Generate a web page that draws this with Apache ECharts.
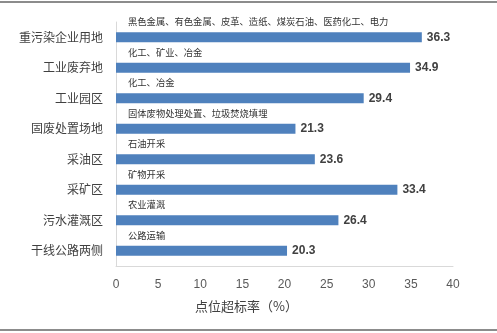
<!DOCTYPE html>
<html><head><meta charset="utf-8">
<script src="https://cdn.jsdelivr.net/npm/echarts@6/dist/echarts.min.js"></script>
<style>html,body{margin:0;padding:0;background:#fff}#c{width:497px;height:333px}</style>
</head><body><div id="c"></div>
<script>
var categories = ['重污染企业用地','工业废弃地','工业园区','固废处置场地','采油区','采矿区','污水灌溉区','干线公路两侧'];
var values = [36.3, 34.9, 29.4, 21.3, 23.6, 33.4, 26.4, 20.3];
var notes = ['黑色金属、有色金属、皮革、造纸、煤炭石油、医药化工、电力','化工、矿业、冶金','化工、冶金','固体废物处理处置、垃圾焚烧填埋','石油开采','矿物开采','农业灌溉','公路运输'];
var xTicks = [0, 5, 10, 15, 20, 25, 30, 35, 40];
var xName = '点位超标率（%）';

var chart = echarts.init(document.getElementById('c'));
var cjk = '"Noto Sans CJK SC", sans-serif';
chart.setOption({
  animation: false,
  grid: {left: 116, right: 44, top: 22, bottom: 67},
  xAxis: {
    type: 'value', min: xTicks[0], max: xTicks[xTicks.length-1], interval: 5,
    splitLine: {show: false},
    axisLine: {show: true, lineStyle: {color: '#d9d9d9', width: 1}},
    axisTick: {show: false},
    axisLabel: {color: '#595959', fontSize: 12, margin: 13, fontFamily: '"Liberation Sans", sans-serif'},
    name: xName, nameLocation: 'middle', nameGap: 34,
    nameTextStyle: {color: '#404040', fontSize: 13, fontFamily: cjk, padding: [0, 76, 0, 0]}
  },
  yAxis: {
    type: 'category', data: categories, inverse: true,
    axisLine: {show: true, lineStyle: {color: '#d9d9d9'}},
    axisTick: {show: false},
    axisLabel: {color: '#404040', fontSize: 12, margin: 13, fontFamily: cjk}
  },
  series: [
    {
      type: 'bar', data: values, barWidth: 10,
      itemStyle: {color: '#4f81bd'},
      label: {show: true, position: 'right', distance: 5, color: '#404040', fontWeight: 'bold', fontSize: 12, fontFamily: '"Liberation Sans", sans-serif'}
    },
    {
      type: 'bar', data: values, barWidth: 10, barGap: '-100%',
      itemStyle: {color: 'rgba(0,0,0,0)'}, silent: true,
      label: {show: true, position: [12, -15], color: '#333', fontSize: 9.3, fontFamily: cjk,
        formatter: function(p){ return notes[p.dataIndex]; }}
    }
  ],
  graphic: [
    {type: 'rect', shape: {x: 0, y: 1, width: 497, height: 2}, style: {fill: '#8c8c8c'}},
    {type: 'rect', shape: {x: 0, y: 329, width: 497, height: 2}, style: {fill: '#8c8c8c'}}
  ]
});
</script></body></html>
